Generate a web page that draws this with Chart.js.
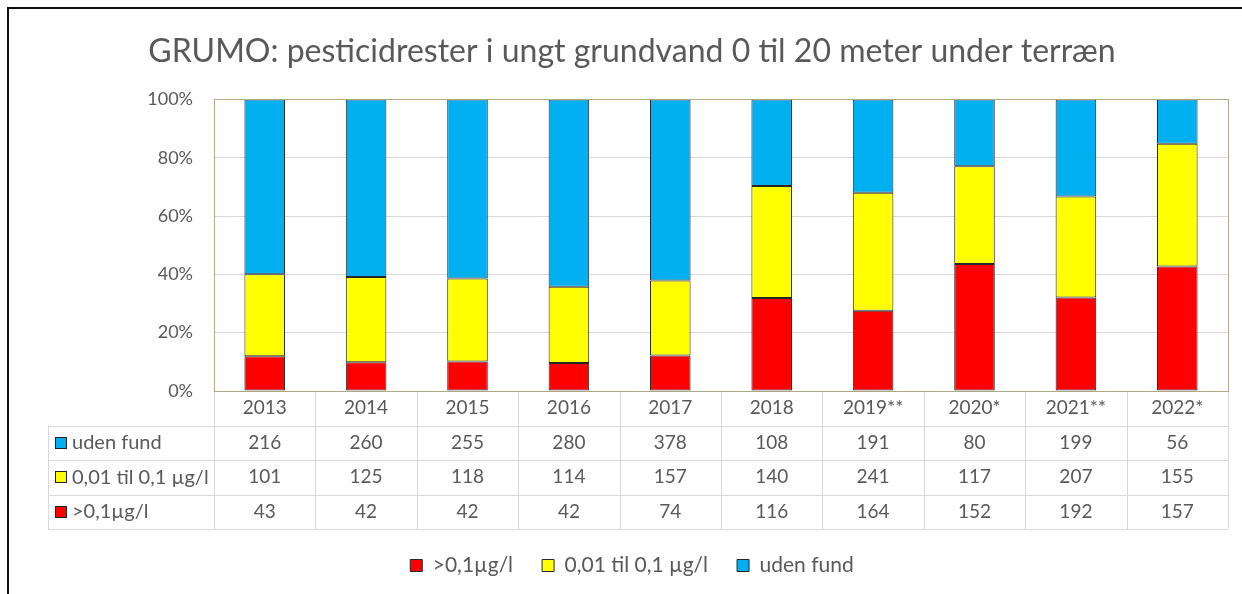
<!DOCTYPE html>
<html>
<head>
<meta charset="utf-8">
<script src="https://cdn.jsdelivr.net/npm/chart.js@4.4.1/dist/chart.umd.min.js"></script>
<style>
    html, body { margin: 0; padding: 0; background: #fff; }
    #wrap { width: 1242px; height: 594px; position: relative; }
</style>
</head>
<body>
<div id="wrap"><canvas id="chart"></canvas></div>
<script>
const years = ["2013", "2014", "2015", "2016", "2017", "2018", "2019**", "2020*", "2021**", "2022*"];
const udenFund = [216, 260, 255, 280, 378, 108, 191, 80, 199, 56];
const lavFund = [101, 125, 118, 114, 157, 140, 241, 117, 207, 155];
const hoejFund = [43, 42, 42, 42, 74, 116, 164, 152, 192, 157];
const yTicks = [0, 20, 40, 60, 80, 100];

const seriesNames = [">0,1µg/l", "0,01 til 0,1 µg/l", "uden fund"];
const seriesColors = ["#ff0000", "#ffff00", "#00b0f0"];

const FONT = "Lato, 'Open Sans', sans-serif";
const TEXT = "#595959";
const ROW_H = 34.5;

function share(arr, i) {
    const total = udenFund[i] + lavFund[i] + hoejFund[i];
    return arr[i] / total * 100;
}

const tableRows = [
    { name: "uden fund", color: seriesColors[2], values: udenFund },
    { name: "0,01 til 0,1 µg/l", color: seriesColors[1], values: lavFund },
    { name: ">0,1µg/l", color: seriesColors[0], values: hoejFund }
];

const framePlugin = {
    id: "frame",
    beforeDraw(chart) {
        const ctx = chart.ctx;
        ctx.save();
        ctx.fillStyle = "#fff";
        ctx.fillRect(0, 0, chart.width, chart.height);
        ctx.strokeStyle = "#111";
        ctx.lineWidth = 2;
        ctx.beginPath();
        ctx.moveTo(8, chart.height);
        ctx.lineTo(8, 8);
        ctx.lineTo(chart.width, 8);
        ctx.stroke();
        ctx.restore();
    },
    afterDraw(chart) {
        const ctx = chart.ctx;
        const area = chart.chartArea;
        const x = chart.scales.x;
        const n = years.length;
        const colW = (area.right - area.left) / n;
        const rowH = ROW_H;
        const tableBottom = area.bottom + 4 * rowH;
        const tableLeft = 48;

        ctx.save();
        // table grid
        ctx.strokeStyle = "#d9d9d9";
        ctx.lineWidth = 1;
        ctx.beginPath();
        for (let i = 0; i <= n; i++) {
            const px = Math.round(area.left + i * colW) + 0.5;
            ctx.moveTo(px, area.bottom);
            ctx.lineTo(px, tableBottom);
        }
        for (let r = 1; r <= 4; r++) {
            const py = Math.round(area.bottom + r * rowH) + 0.5;
            ctx.moveTo(tableLeft, py);
            ctx.lineTo(area.right, py);
        }
        ctx.moveTo(tableLeft + 0.5, area.bottom + rowH);
        ctx.lineTo(tableLeft + 0.5, tableBottom);
        ctx.stroke();

        // plot area border
        ctx.strokeStyle = "#aeaa88";
        ctx.strokeRect(Math.round(area.left) + 0.5, Math.round(area.top) + 0.5,
            Math.round(area.right - area.left), Math.round(area.bottom - area.top));

        // header and values
        ctx.fillStyle = TEXT;
        ctx.font = "19px " + FONT;
        ctx.textAlign = "center";
        ctx.textBaseline = "middle";
        years.forEach((y, i) => {
            const cx = x.getPixelForValue(i);
            ctx.fillText(y, cx, area.bottom + rowH * 0.5);
            tableRows.forEach((row, r) => {
                ctx.fillText(String(row.values[i]), cx, area.bottom + rowH * (r + 1.5));
            });
        });

        // row labels with keys
        ctx.textAlign = "left";
        ctx.font = "20px " + FONT;
        tableRows.forEach((row, r) => {
            const cy = area.bottom + rowH * (r + 1.5);
            ctx.fillStyle = row.color;
            ctx.fillRect(55.5, Math.round(cy - 6) + 0.5, 11, 11);
            ctx.strokeStyle = "#222";
            ctx.strokeRect(55.5, Math.round(cy - 6) + 0.5, 11, 11);
            ctx.fillStyle = TEXT;
            ctx.fillText(row.name, 72, cy);
        });
        ctx.restore();
    }
};

new Chart(document.getElementById("chart"), {
    type: "bar",

    data: {
        labels: years,

        datasets: [hoejFund, lavFund, udenFund].map((arr, k) => ({
            label: seriesNames[k],
            data: years.map((_, i) => share(arr, i)),
            backgroundColor: seriesColors[k],
            borderColor: "#262626",
            borderWidth: 1,
            borderSkipped: false,
            barPercentage: 0.4,
            categoryPercentage: 1
        }))
    },

    options: {
        responsive: true,
        maintainAspectRatio: false,
        animation: false,

        layout: {
            padding: { top: 0, left: 36, right: 14, bottom: 8 }
        },

        plugins: {
            title: {
                display: true,
                text: "GRUMO: pesticidrester i ungt grundvand 0 til 20 meter under terræn",
                color: TEXT,
                font: { family: FONT, size: 32, weight: "normal" },
                padding: { top: 32, bottom: 29 }
            },

            legend: {
                position: "bottom",
                labels: {
                    color: TEXT,
                    font: { family: FONT, size: 21 },
                    boxWidth: 12,
                    boxHeight: 12,
                    padding: 29
                }
            },

            tooltip: { enabled: false }
        },

        scales: {
            x: {
                stacked: true,
                grid: { display: false, drawTicks: false },
                border: { display: false },
                ticks: { display: false },
                afterFit(scale) {
                    scale.height = 135;
                }
            },

            y: {
                stacked: true,
                min: 0,
                max: 100,
                afterBuildTicks(scale) {
                    scale.ticks = yTicks.map(v => ({ value: v }));
                },
                afterFit(scale) {
                    scale.width = 178;
                },
                grid: { color: "#d9d9d9", drawTicks: false },
                border: { display: false },
                ticks: {
                    color: TEXT,
                    font: { family: FONT, size: 18 },
                    padding: 21,
                    callback: v => v + "%"
                }
            }
        }
    },

    plugins: [framePlugin]
});
</script>
</body>
</html>
